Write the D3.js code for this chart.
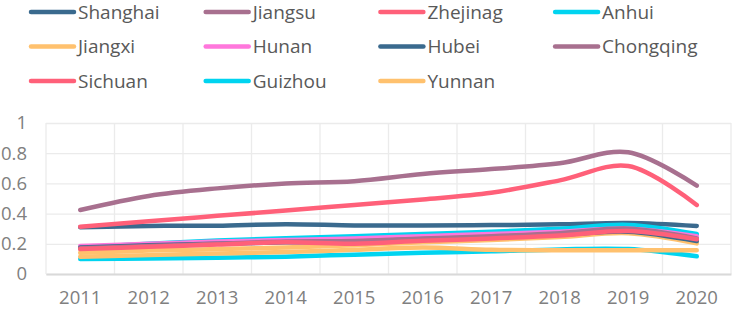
<!DOCTYPE html>
<html>
<head>
<meta charset="utf-8">
<script src="https://cdn.jsdelivr.net/npm/d3@7"></script>
<style>
  html, body { margin: 0; padding: 0; background: #fff; }
  svg { display: block; font-family: "Open Sans", sans-serif; }
</style>
</head>
<body>
<div id="chart"></div>
<script>
// data
const years = ['2011','2012','2013','2014','2015','2016','2017','2018','2019','2020'];
const provinces = ['Shanghai','Jiangsu','Zhejinag','Anhui','Jiangxi','Hunan','Hubei','Chongqing','Sichuan','Guizhou','Yunnan'];
const shanghai  = [0.310,0.318,0.320,0.330,0.322,0.322,0.324,0.329,0.338,0.318];
const jiangsu   = [0.424,0.517,0.567,0.600,0.615,0.662,0.695,0.733,0.806,0.585];
const zhejiang  = [0.313,0.350,0.385,0.420,0.457,0.494,0.538,0.620,0.715,0.457];
const anhui     = [0.175,0.200,0.222,0.236,0.250,0.265,0.280,0.300,0.325,0.265];
const jiangxi   = [0.140,0.155,0.165,0.175,0.190,0.210,0.225,0.245,0.270,0.203];
const hunan     = [0.185,0.200,0.215,0.225,0.235,0.250,0.265,0.280,0.300,0.250];
const hubei     = [0.175,0.190,0.200,0.210,0.215,0.230,0.245,0.260,0.280,0.218];
const chongqing = [0.170,0.185,0.200,0.215,0.218,0.235,0.250,0.270,0.300,0.236];
const sichuan   = [0.165,0.180,0.195,0.210,0.200,0.220,0.235,0.255,0.285,0.230];
const guizhou   = [0.099,0.102,0.108,0.115,0.128,0.140,0.150,0.163,0.165,0.117];
const yunnan    = [0.115,0.125,0.135,0.145,0.160,0.175,0.160,0.157,0.157,0.157];
const yTicks = [0, 0.2, 0.4, 0.6, 0.8, 1];

(function() {
  const values = [shanghai,jiangsu,zhejiang,anhui,jiangxi,hunan,hubei,chongqing,sichuan,guizhou,yunnan];
  const series = provinces.map((p,i) => ({name:p, vals: values[i].map((v,j)=>({year:years[j], v}))}));
  const C = ['#3a6a8e','#a8708f','#ff6079','#00d4f0','#ffc16e','#ff77dc','#3a6a8e','#a8708f','#ff6079','#00d4f0','#ffc16e'];

  const W = 733, H = 310;
  const m = {top:123, right:2, bottom:36, left:46};
  const w = W-m.left-m.right, h = H-m.top-m.bottom;

  const cSc = d3.scaleOrdinal().domain(provinces).range(C);
  const xSc = d3.scaleBand().domain(years).range([0,w]);
  const ySc = d3.scaleLinear().domain([0,1]).range([h,0]);

  const svg = d3.select('#chart').append('svg').attr('width',W).attr('height',H);
  const g = svg.append('g').attr('transform',`translate(${m.left},${m.top})`);

  // grid
  g.append('g').call(d3.axisLeft(ySc).tickValues(yTicks).tickSize(-w).tickFormat(''))
    .call(g=>g.select('.domain').remove())
    .call(g=>g.selectAll('line').style('stroke','#ebebeb').style('stroke-width','1.3'));
  g.append('g').selectAll('line').data(d3.range(years.length+1)).join('line')
    .attr('x1',i=>i*xSc.step()).attr('x2',i=>i*xSc.step())
    .attr('y1',0).attr('y2',h)
    .style('stroke','#ebebeb').style('stroke-width','1.3');

  // x axis
  const xa = g.append('g').attr('transform',`translate(0,${h})`).call(d3.axisBottom(xSc).tickSize(0).tickPadding(17));
  xa.select('.domain').style('stroke','#d9d9d9').style('stroke-width','2');
  xa.selectAll('text').style('font-family','"Open Sans",sans-serif').style('font-size','18.5px').style('fill','#808080');

  // y axis
  const ya = g.append('g').call(d3.axisLeft(ySc).tickValues(yTicks).tickSize(0).tickPadding(19).tickFormat(d3.format('')));
  ya.select('.domain').remove();
  ya.selectAll('text').style('font-family','"Open Sans",sans-serif').style('font-size','18.5px').style('fill','#808080');

  // lines
  const line = d3.line().x(d=>xSc(d.year)+xSc.bandwidth()/2).y(d=>ySc(d.v)).curve(d3.curveCatmullRom.alpha(0.5));
  g.selectAll('.line').data(series).join('path').attr('class','line')
    .attr('d',d=>line(d.vals)).attr('fill','none')
    .attr('stroke',d=>cSc(d.name)).attr('stroke-width',4.5)
    .attr('stroke-linecap','round').attr('stroke-linejoin','round');

  // legend
  const lg = svg.append('g').selectAll('g').data(provinces).join('g')
    .attr('transform',(d,i)=>`translate(${31+(i%4)*174.7},${12+Math.floor(i/4)*34.5})`);
  lg.append('line').attr('x1',0).attr('x2',43).attr('y1',0).attr('y2',0)
    .attr('stroke',d=>cSc(d)).attr('stroke-width',4.5).attr('stroke-linecap','round');
  lg.append('text').attr('x',47).attr('y',0).attr('dy','0.35em')
    .style('font-family','"Open Sans",sans-serif').style('font-size','19px').style('fill','#595959')
    .text(d=>d);
})();
</script>
</body>
</html>
